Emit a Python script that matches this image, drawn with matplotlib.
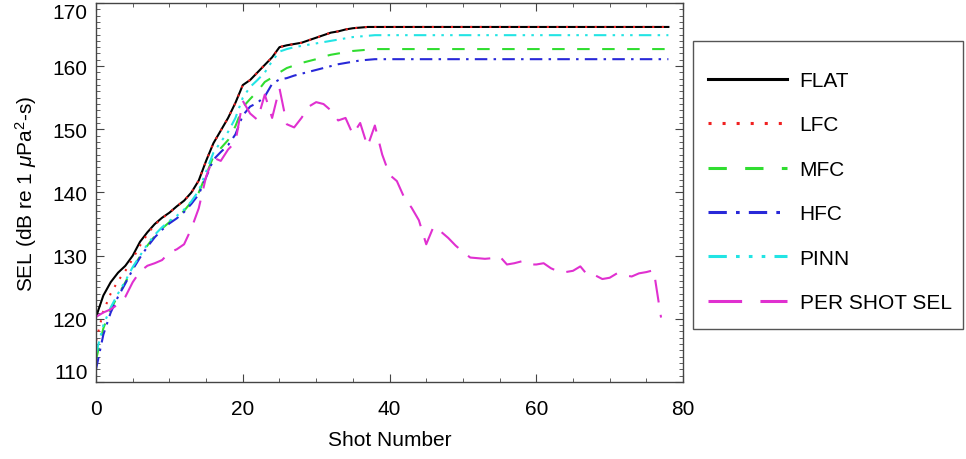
"""Cumulative SEL vs shot number for the different source models."""

import matplotlib

matplotlib.use("Agg")
import matplotlib.pyplot as plt
from matplotlib.patches import Rectangle
from matplotlib.ticker import MultipleLocator

# cumulative SEL curves, one value per shot (0..78)
cum_shots = list(range(79))

flat_sel = [
    120.3, 123.7, 125.8, 127.3, 128.4, 130.0, 132.2, 133.7, 135.0, 136.0,
    136.8, 137.8, 138.7, 140.0, 141.9, 145.0, 147.8, 149.8, 151.8, 154.2,
    157.0, 157.8, 159.0, 160.2, 161.4, 163.0, 163.3, 163.5, 163.7, 164.1,
    164.5, 164.9, 165.3, 165.5, 165.8, 166.0, 166.1, 166.2, 166.2, 166.2,
    166.2, 166.2, 166.2, 166.2, 166.2, 166.2, 166.2, 166.2, 166.2, 166.2,
    166.2, 166.2, 166.2, 166.2, 166.2, 166.2, 166.2, 166.2, 166.2, 166.2,
    166.2, 166.2, 166.2, 166.2, 166.2, 166.2, 166.2, 166.2, 166.2, 166.2,
    166.2, 166.2, 166.2, 166.2, 166.2, 166.2, 166.2, 166.2, 166.2,
]
lfc_sel = [
    116.5, 121.2, 124.0, 126.0, 127.6, 129.5, 131.6, 133.4, 134.9, 135.9,
    136.8, 137.8, 138.7, 140.0, 141.9, 145.0, 147.8, 149.8, 151.8, 154.2,
    157.0, 157.8, 159.0, 160.2, 161.4, 163.0, 163.3, 163.5, 163.7, 164.1,
    164.5, 164.9, 165.3, 165.5, 165.8, 166.0, 166.1, 166.2, 166.2, 166.2,
    166.2, 166.2, 166.2, 166.2, 166.2, 166.2, 166.2, 166.2, 166.2, 166.2,
    166.2, 166.2, 166.2, 166.2, 166.2, 166.2, 166.2, 166.2, 166.2, 166.2,
    166.2, 166.2, 166.2, 166.2, 166.2, 166.2, 166.2, 166.2, 166.2, 166.2,
    166.2, 166.2, 166.2, 166.2, 166.2, 166.2, 166.2, 166.2, 166.2,
]
mfc_sel = [
    113.5, 118.5, 121.5, 123.7, 125.8, 128.0, 129.9, 131.6, 133.1, 134.3,
    135.3, 136.1, 137.1, 138.5, 140.0, 142.8, 145.7, 147.0, 148.3, 150.5,
    153.5, 154.8, 156.0, 157.5, 158.2, 159.0, 159.7, 160.1, 160.5, 160.8,
    161.1, 161.5, 161.8, 162.0, 162.2, 162.4, 162.5, 162.6, 162.7, 162.7,
    162.7, 162.7, 162.7, 162.7, 162.7, 162.7, 162.7, 162.7, 162.7, 162.7,
    162.7, 162.7, 162.7, 162.7, 162.7, 162.7, 162.7, 162.7, 162.7, 162.7,
    162.7, 162.7, 162.7, 162.7, 162.7, 162.7, 162.7, 162.7, 162.7, 162.7,
    162.7, 162.7, 162.7, 162.7, 162.7, 162.7, 162.7, 162.7, 162.7,
]
hfc_sel = [
    112.0, 117.5, 121.0, 123.5, 125.6, 127.8, 129.7, 131.4, 132.9, 134.1,
    135.1, 135.9, 136.9, 138.2, 139.7, 142.4, 145.2, 146.4, 147.5, 149.2,
    152.2, 153.6, 154.2, 155.2, 157.2, 157.9, 158.1, 158.5, 158.8, 159.1,
    159.4, 159.7, 160.0, 160.3, 160.5, 160.7, 160.9, 161.0, 161.1, 161.1,
    161.1, 161.1, 161.1, 161.1, 161.1, 161.1, 161.1, 161.1, 161.1, 161.1,
    161.1, 161.1, 161.1, 161.1, 161.1, 161.1, 161.1, 161.1, 161.1, 161.1,
    161.1, 161.1, 161.1, 161.1, 161.1, 161.1, 161.1, 161.1, 161.1, 161.1,
    161.1, 161.1, 161.1, 161.1, 161.1, 161.1, 161.1, 161.1, 161.1,
]
pinn_sel = [
    114.5, 119.0, 121.8, 124.0, 126.0, 128.2, 130.0, 131.8, 133.3, 134.5,
    135.5, 136.3, 137.3, 138.6, 140.3, 143.3, 146.3, 148.0, 149.6, 151.8,
    155.0, 156.7, 157.8, 159.0, 160.8, 162.3, 162.7, 163.0, 163.2, 163.4,
    163.6, 163.8, 164.0, 164.2, 164.4, 164.6, 164.7, 164.8, 164.9, 164.9,
    164.9, 164.9, 164.9, 164.9, 164.9, 164.9, 164.9, 164.9, 164.9, 164.9,
    164.9, 164.9, 164.9, 164.9, 164.9, 164.9, 164.9, 164.9, 164.9, 164.9,
    164.9, 164.9, 164.9, 164.9, 164.9, 164.9, 164.9, 164.9, 164.9, 164.9,
    164.9, 164.9, 164.9, 164.9, 164.9, 164.9, 164.9, 164.9, 164.9,
]

# single-shot SEL, shots 0..77
shot_shots = list(range(78))
shot_sel = [
    120.3, 121.0, 121.5, 122.3, 123.5, 125.8, 127.5, 128.4, 128.8, 129.3,
    130.5, 131.0, 131.8, 134.3, 137.5, 142.5, 145.5, 145.0, 146.8, 148.0,
    154.5, 152.5, 151.5, 155.5, 151.8, 156.5, 150.8, 150.3, 151.8, 153.6,
    154.3, 154.0, 153.0, 151.4, 151.8, 149.2, 151.0, 147.3, 150.6, 146.0,
    142.8, 141.8, 139.2, 137.6, 135.6, 131.8, 134.6, 133.8, 132.8, 131.6,
    130.6, 129.7, 129.6, 129.5, 129.6, 129.9, 128.6, 128.8, 129.1, 128.6,
    128.6, 128.8, 128.0, 127.5, 127.4, 127.6, 128.3, 126.9, 126.9, 126.3,
    126.5, 127.2, 126.9, 126.7, 127.2, 127.4, 127.7, 120.2,
]

plt.rcParams.update(
    {
        "font.family": ["Liberation Sans", "DejaVu Sans"],
        "mathtext.fontset": "custom",
        "mathtext.rm": "Liberation Sans",
        "mathtext.it": "Liberation Sans:italic",
        "axes.edgecolor": "#444444",
        "axes.linewidth": 1.0,
    }
)

fig = plt.figure(figsize=(9.66, 4.60), dpi=100)
ax = fig.add_axes([0.0994, 0.1674, 0.6077, 0.8240])

lw = 1.5
ax.plot(cum_shots, flat_sel, color="black", lw=lw, label="FLAT")
ax.plot(cum_shots, lfc_sel, color="#f02020", lw=lw,
        linestyle=(0, (1.0, 3.6)), label="LFC")
ax.plot(cum_shots, mfc_sel, color="#30dd30", lw=lw,
        linestyle=(0, (6.0, 6.0)), label="MFC")
ax.plot(cum_shots, hfc_sel, color="#2828d8", lw=lw,
        linestyle=(0, (6.0, 3.0, 1.2, 3.0)), label="HFC")
ax.plot(cum_shots, pinn_sel, color="#22e4e4", lw=lw,
        linestyle=(0, (6.0, 3.0, 1.2, 3.0, 1.2, 3.0, 1.2, 3.0)), label="PINN")
ax.plot(shot_shots, shot_sel, color="#e030d0", lw=lw,
        linestyle=(0, (11.0, 6.0)), label="PER SHOT SEL")

ax.set_xlim(0, 80)
ax.set_ylim(110, 170)
ax.xaxis.set_major_locator(MultipleLocator(20))
ax.xaxis.set_minor_locator(MultipleLocator(5))
ax.set_yticks([110, 120, 130, 140, 150, 160, 170])
ax.yaxis.set_minor_locator(MultipleLocator(1))
ax.tick_params(which="both", direction="in", top=True, right=True,
               color="#444444", labelsize=15)
ax.tick_params(which="major", length=6)
ax.tick_params(which="minor", length=3)
ax.tick_params(axis="x", which="major", pad=12)
ax.tick_params(axis="y", which="major", pad=6)

# keep the end labels inside the frame, like the original
ylabels = ax.get_yticklabels()
ylabels[0].set_verticalalignment("bottom")
ylabels[-1].set_verticalalignment("top")

ax.set_xlabel("Shot Number", fontsize=15, labelpad=9)
ax.set_ylabel(r"SEL (dB re 1 $\mu$Pa$^2$-s)", fontsize=15, labelpad=10)

# legend box drawn separately so the padding can match the original
fig.patches.append(
    Rectangle((693 / 966, 1 - 330 / 460), 270 / 966, 288 / 460,
              transform=fig.transFigure, facecolor="white",
              edgecolor="#555555", linewidth=1.0, zorder=-1)
)
leg = fig.legend(
    *ax.get_legend_handles_labels(),
    loc="upper left",
    bbox_to_anchor=(708 / 966, 1 - 72 / 460),
    borderaxespad=0,
    borderpad=0,
    fontsize=15,
    handlelength=3.8,
    handletextpad=0.6,
    labelspacing=1.22,
    frameon=False,
)
leg.set_zorder(5)
for line in leg.get_lines():
    line.set_linewidth(2.2)

fig.savefig("out.png", dpi=100)
